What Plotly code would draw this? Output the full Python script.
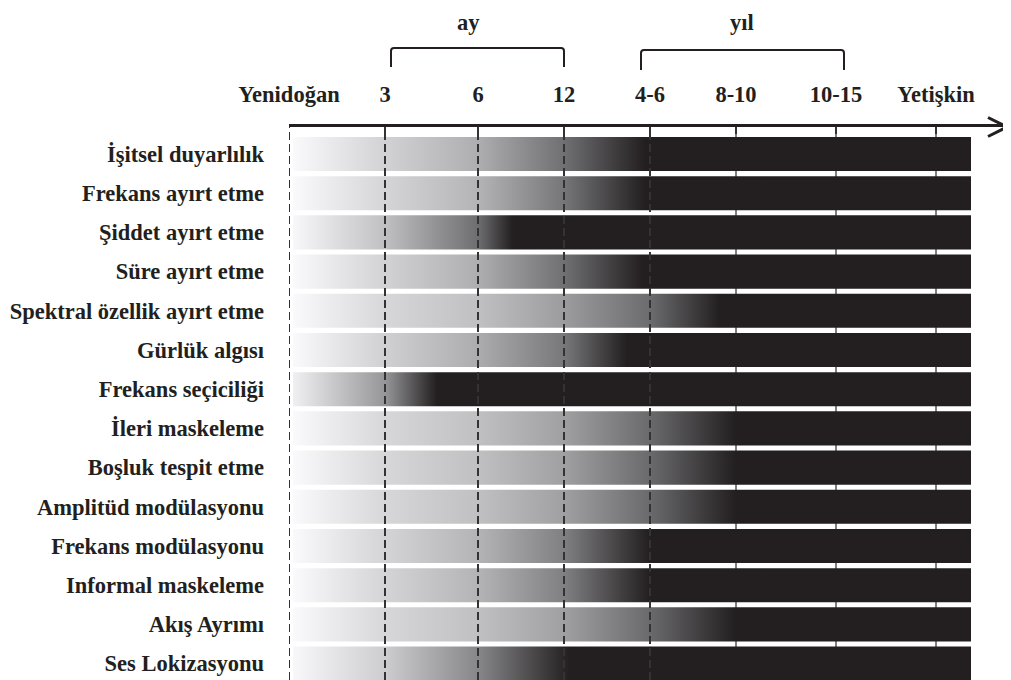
import plotly.graph_objects as go

# ---------------- data ----------------
ROW_LABELS = [
    "İşitsel duyarlılık", "Frekans ayırt etme", "Şiddet ayırt etme", "Süre ayırt etme",
    "Spektral özellik ayırt etme", "Gürlük algısı", "Frekans seçiciliği", "İleri maskeleme",
    "Boşluk tespit etme", "Amplitüd modülasyonu", "Frekans modülasyonu", "Informal maskeleme",
    "Akış Ayrımı", "Ses Lokizasyonu",
]
AGE_LABELS = ["Yenidoğan", "3", "6", "12", "4-6", "8-10", "10-15", "Yetişkin"]
AGE_POS = [0, 96, 189, 275, 361, 447, 547, 647]          # positions of the age marks on the time axis
DASHED_MARKS = 5                                          # first marks drawn as dashed guide lines

# gray level (255 = white) of each bar at the successive age marks (until it turns dark)
GRAY_AT_AGES = [
    [250, 210, 174, 112],
    [250, 213, 180, 118],
    [248, 192, 110],
    [250, 210, 174, 112],
    [250, 215, 192, 156, 108],
    [250, 208, 172, 120],
    [240, 150],
    [250, 215, 192, 160, 106],
    [250, 215, 192, 160, 106],
    [250, 215, 192, 160, 106],
    [250, 212, 180, 128],
    [250, 212, 180, 128],
    [250, 215, 192, 160, 106],
    [248, 205, 135],
]
# position on the time axis where each ability becomes fully dark (adult-like)
MATURE_AT = [356, 356, 224, 354, 431, 338, 148, 447, 447, 447, 361, 361, 447, 281]

BAR_START, BAR_END = 4, 682
DARK = (35, 31, 32)
INK = "#231f20"
FONT = dict(family="Liberation Serif, Times New Roman, serif", size=22.5, color=INK, weight="bold")

fig = go.Figure()
half = 0.435
for i, (grays, mat) in enumerate(zip(GRAY_AT_AGES, MATURE_AT)):
    span = BAR_END - BAR_START
    cs = []
    xs = [BAR_START] + AGE_POS[1:len(grays)]
    for x, g in zip(xs, grays):
        cs.append([(x - BAR_START) / span, f"rgb({g},{g},{min(255, g + 2)})"])
    dark = f"rgb({DARK[0]},{DARK[1]},{DARK[2]})"
    cs.append([(mat - BAR_START) / span, dark])
    cs.append([1.0, dark])
    fig.add_trace(go.Scatter(
        x=[BAR_START, BAR_END, BAR_END, BAR_START, BAR_START],
        y=[i - half, i - half, i + half, i + half, i - half],
        mode="lines", line=dict(width=0), fill="toself",
        fillgradient=dict(type="horizontal", colorscale=cs, start=BAR_START, stop=BAR_END),
        hoverinfo="skip", showlegend=False,
    ))

shapes = []
for k, p in enumerate(AGE_POS):
    if k < DASHED_MARKS:
        shapes.append(dict(type="line", xref="x", yref="paper", x0=p, x1=p, y0=0, y1=1,
                           line=dict(color="#333333", width=2, dash="8px,4px"), layer="above"))
    else:
        shapes.append(dict(type="line", xref="x", yref="paper", x0=p, x1=p, y0=0, y1=1,
                           line=dict(color="#555555", width=1.5), layer="below"))

# arrow head at the right end of the time axis
shapes.append(dict(type="path", xref="x", yref="paper", ysizemode="pixel", yanchor=1,
                   path="M 699,9.5 L 718,0 L 699,-9.5", line=dict(color=INK, width=3)))


def bracket(x0, x1, top, bottom):
    r = 3
    return (f"M {x0},{bottom} L {x0},{top - r} Q {x0},{top} {x0 + r},{top} "
            f"L {x1 - r},{top} Q {x1},{top} {x1},{top - r} L {x1},{bottom}")


# brackets for "ay" and "yıl"
shapes.append(dict(type="path", xref="x", yref="paper", ysizemode="pixel", yanchor=1,
                   path=bracket(AGE_POS[1] + 6, AGE_POS[3], 79, 60), line=dict(color=INK, width=2)))
shapes.append(dict(type="path", xref="x", yref="paper", ysizemode="pixel", yanchor=1,
                   path=bracket(AGE_POS[4] - 9, AGE_POS[6] + 8, 77, 57), line=dict(color=INK, width=2)))

annotations = [
    dict(text="ay", x=179, xref="x", y=1, yref="paper", yanchor="middle", yshift=105,
         showarrow=False, font=FONT, borderpad=0),
    dict(text="yıl", x=453, xref="x", y=1, yref="paper", yanchor="middle", yshift=105,
         showarrow=False, font=FONT, borderpad=0),
]

# the page body adds an 8px offset, so the figure is 8px smaller on each side
fig.update_layout(
    width=1003, height=672,
    margin=dict(l=281, r=2, t=119, b=0),
    paper_bgcolor="white", plot_bgcolor="white",
    shapes=shapes, annotations=annotations,
    xaxis=dict(range=[0, 720], side="top", tickvals=AGE_POS, ticktext=AGE_LABELS,
               tickfont=FONT, ticks="inside", ticklen=7, tickwidth=1.5, tickcolor="#333333",
               showline=True, linecolor=INK, linewidth=2.5, showgrid=False, zeroline=False,
               ticklabelstandoff=13, fixedrange=True),
    yaxis=dict(range=[13.418, -0.689], tickvals=list(range(len(ROW_LABELS))), ticktext=ROW_LABELS,
               tickfont=FONT, ticks="", showline=False, showgrid=False, zeroline=False,
               ticklabelstandoff=24, fixedrange=True),
)

fig.write_html("out.html")
